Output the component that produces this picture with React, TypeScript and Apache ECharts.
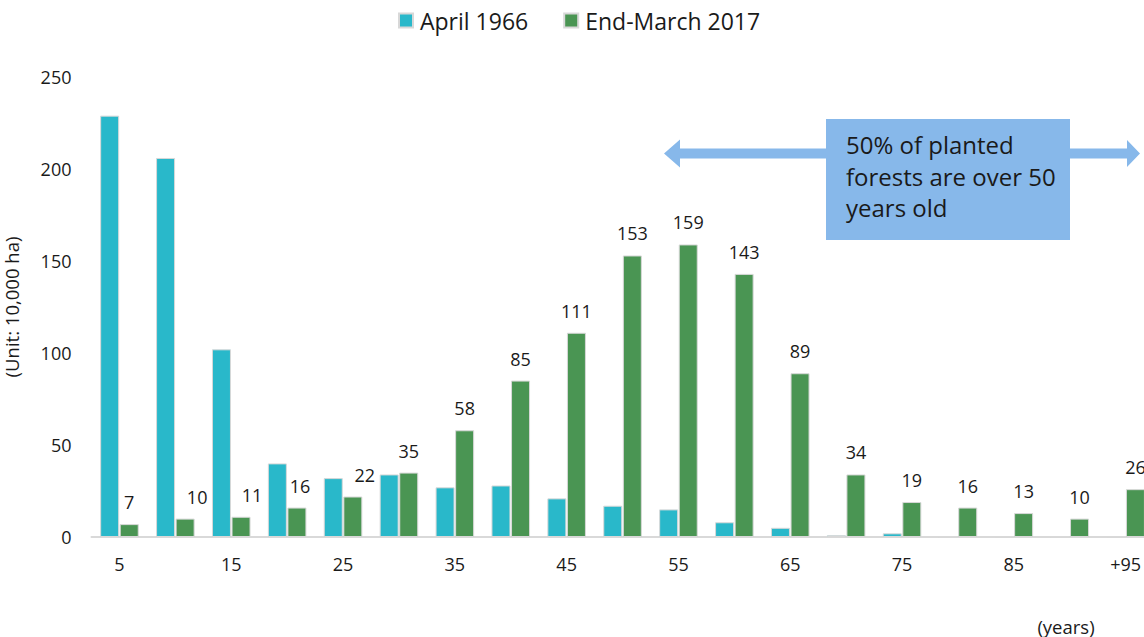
import React, { useEffect, useRef } from "react";
import * as echarts from "echarts";

const categories = ["5", "10", "15", "20", "25", "30", "35", "40", "45", "50", "55", "60", "65", "70", "75", "80", "85", "90", "+95"];
const april1966 = [229, 206, 102, 40, 32, 34, 27, 28, 21, 17, 15, 8, 5, 1, 2, 0, 0, 0, 0];
const march2017 = [7, 10, 11, 16, 22, 35, 58, 85, 111, 153, 159, 143, 89, 34, 19, 16, 13, 10, 26];
const seriesNames = ["April 1966", "End-March 2017"];
const annotationText = "50% of planted\nforests are over 50\nyears old";
const labelShiftRight: Record<number, number> = { 1: 12, 2: 11, 3: 3, 4: 12 };

const FONT = "'Open Sans', 'Noto Sans', sans-serif";
const CYAN = "#29b8ca";
const GREEN = "#4a9553";
const BLUE = "#87b8ea";
const TEXT = "#1a1a1a";

export default function App() {
  const ref = useRef<HTMLDivElement>(null);
  useEffect(() => {
    if (!ref.current) return;
    const chart = echarts.init(ref.current, null, { renderer: "svg" });
    const greenData = march2017.map((v, i) =>
      labelShiftRight[i] ? { value: v, label: { offset: [labelShiftRight[i], 0] } } : v
    );
    chart.setOption({
      animation: false,
      textStyle: { fontFamily: FONT },
      legend: {
        left: 393,
        top: 4,
        itemWidth: 14,
        itemHeight: 14,
        itemGap: 35,
        icon: "rect",
        textStyle: { fontSize: 23, color: TEXT, fontFamily: FONT, padding: [0, 0, 0, 2] },
        data: seriesNames,
      },
      grid: { left: 91.5, right: -9.6, top: 77, bottom: 100, outerBoundsMode: "none", containLabel: false },
      xAxis: {
        type: "category",
        data: categories,
        axisLine: { show: true, lineStyle: { color: "#d9d9d9", width: 2 } },
        axisTick: { show: false },
        axisLabel: { interval: 1, fontSize: 18, color: TEXT, margin: 18, fontFamily: FONT },
      },
      yAxis: {
        type: "value",
        min: 0,
        max: 250,
        interval: 50,
        name: "(Unit: 10,000 ha)",
        nameLocation: "middle",
        nameRotate: 90,
        nameGap: 71,
        nameTextStyle: { fontSize: 18.5, color: TEXT, fontFamily: FONT },
        axisLine: { show: false },
        axisTick: { show: false },
        splitLine: { show: false },
        axisLabel: { fontSize: 18, color: TEXT, margin: 20, fontFamily: FONT },
      },
      series: [
        {
          name: seriesNames[0],
          type: "bar",
          data: april1966,
          barWidth: 19,
          barGap: "3%",
          itemStyle: { color: CYAN, borderColor: "#d8d8d8", borderWidth: 1 },
        },
        {
          name: seriesNames[1],
          type: "bar",
          data: greenData,
          barWidth: 19,
          itemStyle: { color: GREEN, borderColor: "#d8d8d8", borderWidth: 1 },
          label: {
            show: true,
            position: "top",
            distance: 13,
            fontSize: 18,
            color: TEXT,
            fontFamily: FONT,
          },
        },
      ],
      graphic: [
        {
          type: "polygon",
          silent: true,
          shape: {
            points: [
              [664, 153.5], [680, 139.5], [680, 148.5], [1127, 148.5], [1127, 140],
              [1140, 153.5], [1127, 167], [1127, 158.5], [680, 158.5], [680, 167.5],
            ],
          },
          style: { fill: BLUE },
        },
        {
          type: "rect",
          silent: true,
          shape: { x: 826, y: 119, width: 244, height: 121 },
          style: { fill: BLUE },
        },
        {
          type: "text",
          silent: true,
          x: 846,
          y: 129,
          style: {
            text: annotationText,
            fontSize: 24,
            lineHeight: 31.5,
            fill: TEXT,
            fontFamily: FONT,
            verticalAlign: "top",
            align: "left",
          },
        },
        {
          type: "text",
          silent: true,
          x: 1066,
          y: 626,
          style: {
            text: "(years)",
            fontSize: 18.5,
            fill: TEXT,
            fontFamily: FONT,
            align: "center",
            verticalAlign: "middle",
          },
        },
      ],
    });
    return () => chart.dispose();
  }, []);
  return (
    <div
      ref={ref}
      style={{ position: "absolute", left: 0, top: 0, width: 1144, height: 637, background: "#fff" }}
    />
  );
}
